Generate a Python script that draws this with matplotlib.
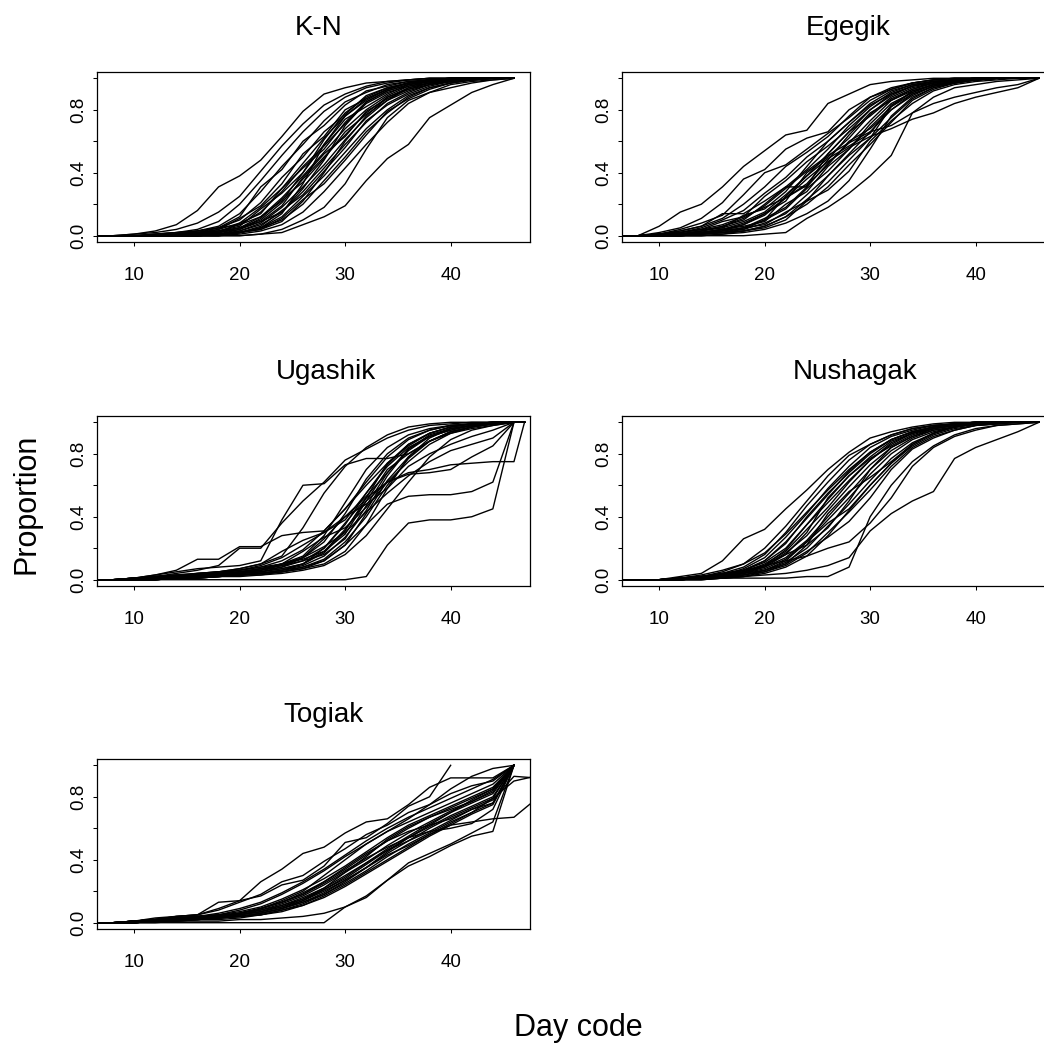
import numpy as np
import matplotlib.pyplot as plt

plt.rcParams["font.family"] = ["Liberation Sans", "DejaVu Sans"]

N = None  # no observation on that day

# Day codes (x values) for each panel
dias = [6, 8, 10, 12, 14, 16, 18, 20, 22, 24, 26, 28, 30, 32, 34, 36, 38, 40, 42, 44, 46]
dias_ugashik = [6, 8, 10, 12, 14, 16, 18, 20, 22, 24, 26, 28, 30, 32, 34, 36, 38, 40, 42, 44, 46, 47]
dias_togiak = [6, 8, 10, 12, 14, 16, 18, 20, 22, 24, 26, 28, 30, 32, 34, 36, 38, 40, 42, 44, 46, 48]

# Cumulative run proportion (in %) per year
kn = [
    [0, 0, 1, 3, 7, 16, 31, 38, 48, 63, 79, 90, 94, 97, 98, 99, 100, 100, 100, 100, 100],
    [0, 0, 1, 2, 4, 8, 15, 25, 41, 57, 71, 83, 90, 95, 98, 99, 100, 100, 100, 100, 100],
    [0, 0, 0, 1, 2, 4, 9, 20, 35, 51, 66, 79, 88, 94, 97, 99, 100, 100, 100, 100, 100],
    [0, 0, 0, 0, 1, 3, 6, 14, 28, 44, 58, 73, 85, 91, 96, 98, 99, 100, 100, 100, 100],
    [0, 0, 0, 1, 2, 3, 5, 12, 31, 42, 60, 70, 83, 92, 95, 98, 99, 100, 100, 100, 100],
    [0, 0, 0, 0, 1, 2, 5, 10, 21, 37, 50, 66, 77, 89, 94, 97, 99, 100, 100, 100, 100],
    [0, 0, 0, 0, 1, 2, 4, 11, 19, 33, 52, 63, 80, 87, 93, 97, 99, 100, 100, 100, 100],
    [0, 0, 0, 0, 0, 1, 4, 8, 18, 30, 46, 62, 76, 86, 93, 97, 98, 100, 100, 100, 100],
    [0, 0, 0, 0, 0, 1, 3, 7, 15, 28, 44, 57, 71, 84, 91, 95, 98, 99, 100, 100, 100],
    [0, 0, 0, 0, 1, 2, 3, 6, 17, 27, 40, 58, 74, 82, 90, 96, 98, 99, 100, 100, 100],
    [0, 0, 0, 0, 0, 1, 2, 8, 14, 30, 43, 55, 72, 85, 92, 96, 98, 99, 100, 100, 100],
    [0, 0, 0, 0, 0, 1, 2, 5, 12, 24, 38, 53, 68, 80, 89, 95, 97, 99, 100, 100, 100],
    [0, 0, 0, 0, 0, 1, 2, 5, 10, 21, 36, 50, 64, 78, 88, 93, 97, 99, 100, 100, 100],
    [0, 0, 0, 0, 0, 0, 1, 4, 11, 23, 34, 49, 66, 77, 86, 94, 97, 98, 99, 100, 100],
    [0, 0, 0, 0, 0, 1, 2, 4, 9, 19, 37, 52, 63, 79, 87, 93, 96, 99, 100, 100, 100],
    [0, 0, 0, 0, 0, 0, 1, 3, 8, 18, 31, 45, 61, 75, 86, 92, 96, 98, 99, 100, 100],
    [0, 0, 0, 0, 0, 0, 1, 3, 7, 15, 28, 43, 58, 72, 84, 91, 96, 98, 99, 100, 100],
    [0, 0, 0, 0, 0, 0, 1, 2, 6, 16, 26, 41, 56, 73, 83, 90, 95, 98, 99, 100, 100],
    [0, 0, 0, 0, 0, 0, 0, 2, 5, 12, 25, 38, 53, 68, 80, 89, 94, 97, 99, 100, 100],
    [0, 0, 0, 0, 0, 0, 0, 2, 5, 10, 20, 35, 50, 66, 78, 88, 94, 97, 99, 100, 100],
    [0, 0, 0, 0, 0, 0, 1, 2, 4, 11, 23, 33, 48, 64, 79, 87, 93, 97, 99, 100, 100],
    [0, 0, 0, 0, 0, 0, 0, 1, 3, 7, 15, 28, 43, 58, 72, 84, 91, 96, 98, 99, 100],
    [0, 0, 0, 0, 0, 0, 0, 0, 1, 4, 10, 18, 33, 55, 75, 86, 91, 94, 97, 99, 100],
    [0, 0, 0, 0, 0, 0, 0, 0, 1, 2, 7, 12, 19, 35, 49, 58, 75, 83, 91, 96, 100],
    [0, 0, 0, 1, 2, 3, 5, 7, 12, 22, 40, 61, 78, 88, 94, 97, 99, 100, 100, 100, 100],
    [0, 0, 0, 0, 1, 2, 3, 5, 9, 15, 30, 48, 70, 85, 92, 96, 98, 99, 100, 100, 100],
    [0, 0, 0, 0, 0, 1, 1, 2, 5, 14, 33, 58, 76, 87, 93, 97, 99, 100, 100, 100, 100],
    [0, 0, 0, 0, 0, 0, 1, 2, 4, 9, 22, 40, 60, 76, 88, 94, 97, 99, 100, 100, 100],
]

egegik = [
    [0, 0, 6, 15, 20, 31, 44, 54, 64, 67, 84, 90, 96, 98, 99, 100, 100, 100, 100, 100, 100],
    [0, 0, 2, 5, 11, 21, 36, 42, 55, 62, 66, 80, 88, 93, 97, 99, 100, 100, 100, 100, 100],
    [0, 0, 1, 4, 8, 13, 26, 40, 45, 55, 65, 75, 86, 93, 97, 99, 100, 100, 100, 100, 100],
    [0, 0, 1, 3, 6, 11, 20, 31, 44, 53, 63, 76, 88, 94, 97, 99, 100, 100, 100, 100, 100],
    [0, 0, 1, 2, 5, 10, 16, 27, 37, 50, 60, 72, 84, 92, 96, 98, 99, 100, 100, 100, 100],
    [0, 0, 0, 2, 4, 9, 12, 25, 35, 47, 57, 68, 80, 90, 95, 98, 99, 100, 100, 100, 100],
    [0, 0, 0, 1, 3, 6, 10, 20, 31, 42, 55, 70, 82, 91, 96, 98, 99, 100, 100, 100, 100],
    [0, 0, 1, 2, 4, 5, 13, 17, 28, 44, 60, 72, 83, 90, 95, 98, 99, 100, 100, 100, 100],
    [0, 0, 0, 1, 3, 5, 9, 15, 26, 38, 52, 66, 80, 89, 95, 97, 99, 100, 100, 100, 100],
    [0, 0, 0, 1, 2, 4, 7, 14, 22, 40, 50, 62, 77, 88, 94, 97, 99, 100, 100, 100, 100],
    [0, 0, 0, 1, 2, 3, 7, 13, 24, 33, 48, 64, 78, 86, 93, 97, 99, 100, 100, 100, 100],
    [0, 0, 0, 0, 1, 3, 5, 11, 18, 31, 46, 59, 73, 86, 92, 96, 98, 99, 100, 100, 100],
    [0, 0, 0, 1, 2, 4, 6, 9, 20, 28, 44, 55, 71, 84, 91, 96, 98, 99, 100, 100, 100],
    [0, 0, 0, 0, 1, 2, 5, 10, 17, 30, 41, 55, 69, 82, 92, 96, 98, 99, 100, 100, 100],
    [0, 0, 0, 0, 1, 2, 4, 8, 14, 26, 38, 52, 66, 80, 89, 95, 98, 99, 100, 100, 100],
    [0, 0, 0, 1, 2, 3, 5, 7, 15, 22, 38, 51, 62, 82, 90, 95, 97, 99, 100, 100, 100],
    [0, 0, 0, 0, 1, 2, 3, 6, 12, 23, 34, 48, 62, 75, 87, 94, 97, 99, 100, 100, 100],
    [0, 0, 0, 0, 0, 1, 3, 6, 12, 20, 31, 45, 58, 72, 86, 93, 97, 99, 100, 100, 100],
    [0, 0, 0, 0, 1, 2, 3, 5, 10, 22, 29, 41, 60, 73, 84, 92, 96, 98, 99, 100, 100],
    [0, 0, 0, 0, 0, 0, 0, 1, 2, 11, 18, 27, 38, 51, 78, 88, 94, 96, 98, 99, 100],
    [0, 0, 0, 1, 2, 4, 8, 14, 24, 36, 47, 56, 63, 68, 74, 78, 84, 88, 91, 94, 100],
    [0, 0, 0, 1, 3, 6, 11, 19, 30, 41, 51, 59, 66, 70, 78, 84, 88, 91, 94, 96, 100],
    [0, 0, 0, 0, 0, 1, 2, 4, 8, 14, 22, 35, 55, 76, 88, 94, 97, 99, 100, 100, 100],
    [0, 0, 1, 2, 4, 7, 12, 18, 24, 32, 45, 60, 68, 80, 90, 95, 98, 99, 100, 100, 100],
    [0, 0, 1, 3, 6, 14, 14, 22, 31, 31, 52, 66, 76, 87, 93, 97, 99, 100, 100, 100, 100],
    [0, 0, 0, 1, 2, 4, 4, 10, 25, 38, 49, 57, 65, 83, 91, 96, 98, 99, 100, 100, 100],
]

ugashik = [
    [0, 0, 1, 3, 5, 7, 8, 9, 12, 38, 60, 61, 73, 77, 77, 80, 88, 93, 96, 98, 100, 100],
    [0, 0, 1, 2, 3, 4, 5, 7, 10, 15, 33, 55, 72, 84, 92, 97, 99, 100, 100, 100, 100, 100],
    [0, 0, 1, 2, 4, 6, 9, 20, 20, 36, 50, 62, 76, 83, 90, 95, 98, 99, 100, 100, 100, 100],
    [0, 0, 0, 1, 2, 3, 4, 5, 6, 9, 14, 24, 42, 64, 80, 90, 95, 98, 99, 100, 100, 100],
    [0, 0, 1, 2, 3, 3, 4, 5, 7, 10, 15, 28, 49, 70, 84, 92, 96, 98, 99, 100, 100, 100],
    [0, 0, 0, 1, 1, 2, 3, 4, 6, 8, 12, 20, 35, 55, 73, 86, 93, 97, 99, 100, 100, 100],
    [0, 0, 0, 1, 2, 4, 5, 6, 8, 12, 19, 31, 45, 62, 78, 89, 95, 98, 99, 100, 100, 100],
    [0, 0, 0, 0, 1, 2, 3, 4, 5, 7, 10, 17, 31, 52, 74, 86, 93, 97, 99, 100, 100, 100],
    [0, 0, 1, 2, 2, 3, 3, 4, 5, 8, 14, 26, 40, 53, 68, 82, 91, 96, 98, 99, 100, 100],
    [0, 0, 0, 0, 1, 1, 2, 3, 4, 6, 9, 15, 27, 44, 66, 83, 91, 95, 98, 99, 100, 100],
    [0, 0, 0, 1, 1, 2, 3, 3, 4, 5, 8, 13, 24, 40, 60, 77, 88, 94, 97, 99, 100, 100],
    [0, 0, 0, 1, 2, 2, 3, 4, 6, 10, 18, 27, 33, 46, 62, 75, 86, 93, 97, 99, 100, 100],
    [0, 0, 1, 2, 3, 4, 5, 6, 8, 10, 13, 18, 29, 50, 70, 80, 88, 94, 97, 99, 100, 100],
    [0, 0, 0, 0, 1, 1, 2, 2, 3, 5, 7, 12, 22, 42, 63, 78, 88, 94, 97, 99, 100, 100],
    [0, 0, 1, 3, 6, 13, 13, 21, 21, 28, 30, 31, 45, 60, 74, 85, 93, 97, 99, 100, 100, 100],
    [0, 0, 0, 1, 2, 3, 4, 6, 9, 14, 22, 30, 40, 48, 58, 72, 80, 86, 91, 95, 100, 100],
    [0, 0, 0, 0, 1, 2, 3, 5, 7, 10, 14, 21, 30, 43, 55, 66, 75, 82, 86, 90, 100, 100],
    [0, 0, 0, 0, 0, 0, 0, 0, 0, 0, 0, 0, 0, 2, 22, 36, 38, 38, 40, 45, 100, 100],
    [0, 0, 0, 0, 1, 1, 2, 3, 4, 6, 8, 12, 22, 35, 48, 53, 54, 54, 56, 62, 100, 100],
    [0, 0, 0, 1, 1, 2, 3, 4, 5, 7, 10, 18, 32, 50, 62, 68, 70, 73, 74, 75, 75, 100],
    [0, 0, 0, 0, 1, 2, 2, 3, 4, 6, 10, 20, 36, 52, 62, 67, 68, 70, 78, 85, 100, 100],
    [0, 0, 0, 1, 1, 2, 2, 3, 4, 5, 7, 10, 18, 35, 58, 78, 90, 96, 98, 99, 100, 100],
    [0, 0, 1, 1, 2, 3, 4, 5, 7, 9, 12, 16, 26, 47, 68, 83, 92, 96, 98, 99, 100, 100],
    [0, 0, 0, 1, 2, 3, 5, 7, 10, 18, 25, 30, 38, 55, 72, 84, 91, 95, 98, 99, 100, 100],
    [0, 0, 0, 0, 1, 1, 2, 3, 3, 4, 6, 9, 16, 28, 45, 62, 78, 89, 95, 98, 100, 100],
]

nushagak = [
    [0, 0, 0, 2, 4, 12, 26, 32, 45, 57, 70, 81, 90, 94, 97, 99, 100, 100, 100, 100, 100],
    [0, 0, 0, 1, 2, 5, 10, 20, 34, 50, 66, 79, 86, 92, 96, 98, 99, 100, 100, 100, 100],
    [0, 0, 0, 1, 2, 4, 8, 16, 30, 47, 62, 76, 86, 92, 96, 98, 99, 100, 100, 100, 100],
    [0, 0, 0, 1, 1, 3, 7, 14, 27, 42, 58, 72, 84, 91, 95, 98, 99, 100, 100, 100, 100],
    [0, 0, 0, 0, 1, 3, 6, 12, 23, 40, 55, 68, 80, 89, 94, 97, 99, 100, 100, 100, 100],
    [0, 0, 0, 1, 2, 4, 6, 11, 20, 35, 51, 66, 78, 88, 93, 97, 99, 100, 100, 100, 100],
    [0, 0, 0, 0, 1, 2, 5, 10, 18, 32, 46, 62, 76, 86, 93, 96, 98, 99, 100, 100, 100],
    [0, 0, 0, 0, 1, 2, 4, 9, 17, 28, 44, 59, 73, 84, 91, 96, 98, 99, 100, 100, 100],
    [0, 0, 0, 1, 2, 3, 5, 8, 14, 25, 40, 55, 70, 82, 90, 95, 97, 99, 100, 100, 100],
    [0, 0, 0, 0, 1, 2, 4, 7, 13, 24, 38, 52, 67, 80, 89, 94, 97, 99, 100, 100, 100],
    [0, 0, 0, 0, 1, 1, 3, 6, 11, 20, 34, 48, 63, 77, 87, 93, 97, 99, 100, 100, 100],
    [0, 0, 0, 0, 0, 1, 3, 6, 12, 24, 36, 45, 60, 74, 85, 92, 96, 98, 99, 100, 100],
    [0, 0, 0, 0, 1, 2, 3, 5, 9, 17, 30, 43, 57, 72, 84, 91, 95, 98, 99, 100, 100],
    [0, 0, 0, 0, 0, 1, 2, 5, 10, 22, 42, 56, 65, 75, 86, 93, 97, 99, 100, 100, 100],
    [0, 0, 0, 1, 2, 3, 5, 9, 16, 22, 33, 50, 70, 84, 91, 95, 97, 99, 100, 100, 100],
    [0, 0, 0, 0, 1, 2, 4, 8, 16, 30, 52, 66, 77, 85, 92, 96, 98, 99, 100, 100, 100],
    [0, 0, 0, 0, 1, 1, 2, 4, 8, 15, 28, 44, 60, 74, 86, 93, 97, 99, 100, 100, 100],
    [0, 0, 0, 0, 0, 1, 1, 1, 1, 2, 2, 8, 40, 60, 75, 85, 92, 96, 98, 99, 100],
    [0, 0, 0, 0, 1, 1, 2, 3, 4, 6, 9, 14, 31, 42, 50, 56, 77, 84, 89, 94, 100],
    [0, 0, 0, 1, 2, 4, 6, 9, 12, 15, 20, 24, 36, 52, 72, 84, 91, 95, 98, 99, 100],
    [0, 0, 0, 0, 1, 2, 4, 6, 10, 18, 27, 37, 52, 70, 83, 90, 95, 98, 99, 100, 100],
    [0, 0, 0, 1, 3, 6, 10, 17, 29, 43, 57, 70, 81, 89, 94, 97, 99, 100, 100, 100, 100],
    [0, 0, 0, 1, 2, 3, 6, 12, 24, 39, 54, 69, 81, 89, 94, 97, 99, 100, 100, 100, 100],
    [0, 0, 0, 0, 1, 2, 5, 9, 19, 35, 49, 63, 76, 87, 93, 96, 98, 99, 100, 100, 100],
]

togiak = [
    [0, 0, 1, 3, 4, 5, 13, 14, 26, 34, 44, 48, 57, 64, 66, 75, 86, 92, 92, 92, 100, N],
    [0, 0, 1, 2, 4, 5, 9, 14, 17, 24, 27, 36, 51, 54, 63, 74, 80, 100, N, N, N, N],
    [0, 0, 1, 2, 4, 5, 8, 13, 18, 26, 30, 39, 47, 56, 62, 70, 75, 82, 87, 90, 100, N],
    [0, 0, 0, 0, 0, 0, 0, 0, 0, 0, 0, 0, 10, 16, 27, 36, 42, 49, 55, 58, 100, N],
    [0, 0, 0, 0, 1, 1, 1, 2, 2, 3, 4, 6, 10, 17, 27, 38, 44, 50, 57, 64, 100, N],
    [0, 0, 1, 2, 3, 4, 5, 7, 10, 15, 21, 28, 36, 45, 54, 62, 68, 74, 80, 86, 100, N],
    [0, 0, 0, 1, 2, 3, 4, 6, 9, 13, 19, 26, 34, 43, 52, 60, 67, 73, 79, 85, 100, N],
    [0, 0, 1, 2, 3, 3, 4, 5, 8, 12, 17, 24, 32, 40, 49, 57, 64, 71, 77, 84, 100, N],
    [0, 0, 0, 1, 2, 3, 3, 5, 7, 11, 16, 22, 30, 38, 47, 55, 63, 70, 76, 82, 100, N],
    [0, 0, 1, 1, 2, 3, 4, 5, 7, 10, 15, 21, 28, 37, 46, 54, 61, 68, 74, 80, 100, N],
    [0, 0, 0, 1, 2, 2, 3, 4, 6, 9, 14, 20, 27, 35, 44, 52, 60, 67, 73, 79, 100, N],
    [0, 0, 0, 1, 1, 2, 3, 4, 6, 9, 13, 18, 26, 35, 45, 54, 62, 70, 78, 85, 100, N],
    [0, 0, 1, 2, 3, 4, 5, 6, 8, 11, 15, 22, 32, 42, 53, 61, 67, 72, 77, 83, 100, N],
    [0, 0, 0, 1, 2, 2, 3, 4, 5, 8, 12, 18, 25, 33, 42, 50, 57, 64, 70, 76, 100, N],
    [0, 0, 0, 1, 1, 2, 2, 3, 5, 7, 11, 16, 23, 31, 39, 47, 55, 62, 69, 75, 100, N],
    [0, 0, 1, 2, 3, 3, 4, 6, 9, 14, 20, 30, 40, 50, 58, 64, 70, 76, 82, 88, 100, N],
    [0, 0, 0, 1, 2, 3, 4, 5, 7, 10, 14, 21, 29, 38, 46, 52, 58, 65, 72, 78, 93, 92],
    [0, 0, 0, 1, 1, 2, 3, 4, 5, 8, 11, 17, 24, 32, 40, 48, 56, 63, 70, 79, 90, 93],
    [0, 0, 0, 1, 2, 2, 3, 4, 6, 9, 13, 19, 27, 35, 43, 49, 56, 62, 64, 66, 67, 78],
    [0, 0, 1, 1, 2, 3, 4, 6, 9, 13, 18, 26, 35, 44, 52, 58, 62, 66, 72, 76, 100, N],
    [0, 0, 1, 2, 3, 4, 6, 9, 13, 19, 26, 34, 43, 52, 60, 67, 73, 79, 85, 91, 100, N],
    [0, 0, 0, 1, 2, 3, 4, 6, 9, 13, 18, 25, 33, 41, 48, 54, 58, 60, 63, 72, 100, N],
    [0, 0, 1, 2, 3, 4, 5, 8, 12, 18, 25, 33, 42, 50, 58, 66, 75, 85, 93, 98, 100, N],
]

fig = plt.figure(figsize=(10.44, 10.44), dpi=100)
W = 1044.0


def painel(x0, y_topo, x_dias, curvas, titulo, x_titulo):
    # box position in pixels of the 1044 px image
    ax = fig.add_axes([x0 / W, 1 - (y_topo + 170) / W, 433 / W, 170 / W])
    for c in curvas:
        y = np.array(c, dtype=float) / 100.0
        ax.plot(x_dias, y, color="black", lw=1.0)
    ax.set_xlim(6.48, 47.52)
    ax.set_ylim(-0.04, 1.04)
    ax.set_xticks([10, 20, 30, 40])
    ax.set_yticks([0.0, 0.2, 0.4, 0.6, 0.8, 1.0])
    ax.set_yticklabels(["0.0", "", "0.4", "", "0.8", ""], rotation=90, va="center")
    ax.tick_params(direction="out", length=3, width=0.75, labelsize=13.5, color="black")
    ax.tick_params(axis="x", pad=15)
    ax.tick_params(axis="y", pad=4)
    for s in ax.spines.values():
        s.set_linewidth(0.9)
    fig.text(x_titulo / W, 1 - (y_topo - 37) / W, titulo, ha="center", va="baseline", fontsize=20)
    return ax


painel(97, 72, dias, kn, "K-N", 319)
painel(622, 72, dias, egegik, "Egegik", 848)
painel(97, 416, dias_ugashik, ugashik, "Ugashik", 326)
painel(622, 416, dias, nushagak, "Nushagak", 855)
painel(97, 759, dias_togiak, togiak, "Togiak", 323)

fig.text(26 / W, 1 - 504 / W, "Proportion", rotation=90, ha="center", va="center", fontsize=22)
fig.text(578 / W, 1 - 1036 / W, "Day code", ha="center", va="baseline", fontsize=22)

plt.savefig("out.png", dpi=100)
